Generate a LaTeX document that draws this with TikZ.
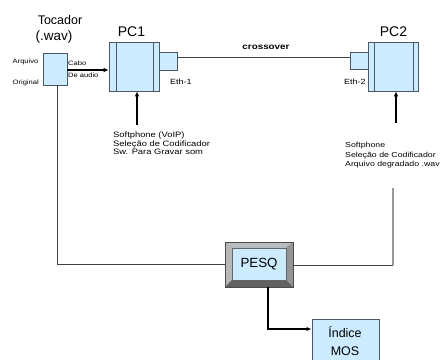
\documentclass[tikz,border=0pt]{standalone}
\usepackage{fontspec}
\setmainfont{Liberation Sans}
\newfontfamily\widefont[FakeStretch=1.2]{Liberation Sans}
\usetikzlibrary{arrows.meta}
\definecolor{boxfill}{HTML}{CCEBFF}
\definecolor{boxedge}{HTML}{4A5868}
\tikzset{
  x=1pt,y=-1pt,
  bx/.style={draw=boxedge,fill=boxfill,line width=0.7pt},
  big/.style={font=\fontsize{13.5}{15}\selectfont,inner sep=0pt},
  small/.style={font=\widefont\fontsize{6.3}{8}\selectfont,inner sep=0pt},
  ethlab/.style={font=\widefont\fontsize{7.5}{8}\selectfont,inner sep=0pt},
  info/.style={inner sep=0pt,align=left,anchor=north west},
  wire/.style={draw=black!75,line width=0.7pt},
  arr/.style={draw=black,line width=1.3pt,-{Latex[length=5pt,width=4.5pt]}},
}
\begin{document}
\begin{tikzpicture}
\useasboundingbox (0,0) rectangle (444,359);
\fill[white] (0,0) rectangle (444,359);
% Tocador
\node[big,font=\fontsize{12.5}{14}\selectfont] (toct) at (60,20) {Tocador};
\node[big] (tocw) at (54,37) {(.wav)};
\node[bx,minimum width=24pt,minimum height=32pt,inner sep=0pt] (toc) at (55,69) {};
\node[small,anchor=west] (arq) at (12.5,62) {Arquivo};
\node[small,anchor=west] (ori) at (12.5,83) {Original};
\node[small,anchor=west] (cabo) at (68,63) {Cabo};
\node[small,anchor=west] (deau) at (68,75) {De audio};
% PC1
\node[bx,minimum width=50pt,minimum height=49pt,inner sep=0pt] (pc1) at (134,66.5) {};
\draw[boxedge,line width=0.7pt] (116,42) -- (116,91) (153,42) -- (153,91);
\node[big,font=\fontsize{14}{15}\selectfont] (pc1t) at (131.5,32) {PC1};
\node[bx,minimum width=18pt,minimum height=18pt,inner sep=0pt] (eth1) at (168,61) {};
\node[ethlab,anchor=west] (eth1t) at (170,82) {Eth-1};
% PC2
\node[bx,minimum width=50pt,minimum height=49pt,inner sep=0pt] (pc2) at (393,66.5) {};
\draw[boxedge,line width=0.7pt] (374,42) -- (374,91) (413,42) -- (413,91);
\node[big,font=\fontsize{14}{15}\selectfont] (pc2t) at (393.5,32) {PC2};
\node[bx,minimum width=18pt,minimum height=17pt,inner sep=0pt] (eth2) at (359,60.5) {};
\node[ethlab,anchor=west] (eth2t) at (344,82) {Eth-2};
% crossover
\node[font=\widefont\bfseries\fontsize{8.2}{9}\selectfont,inner sep=0pt] (cross) at (266,47) {crossover};
\coordinate (c1) at (177,57);
\coordinate (c2) at (350,57);
\draw[wire] (c1) -- (c2);
% Audio arrow
\coordinate (a1) at (67,70);
\draw[arr] (a1) -- (pc1.west |- a1);
% PC1 info
\coordinate (p1b) at (137,125);
\draw[arr] (p1b) -- (p1b |- pc1.south);
\node[info,font=\widefont\fontsize{7.8}{8.2}\selectfont] (inf1) at (113,132) {Softphone (VoIP)\\Seleção de Codificador\\Sw. Para Gravar som};
% PC2 info
\coordinate (p2b) at (396,123);
\draw[arr] (p2b) -- (p2b |- pc2.south);
\node[info,font=\widefont\fontsize{7.3}{9.6}\selectfont] (inf2) at (345,142) {Softphone\\Seleção de Codificador\\Arquivo degradado .wav};
% PESQ
\fill[black!55] (225,242) -- (293,242) -- (293,287) -- (225,287) -- cycle;
\fill[boxedge!40] (225,242) -- (293,242) -- (286,248) -- (232,248) -- cycle;
\fill[black!28] (225,242) -- (232,248) -- (232,280) -- (225,287) -- cycle;
\fill[black!42] (293,242) -- (286,248) -- (286,280) -- (293,287) -- cycle;
\fill[black!62] (225,287) -- (232,280) -- (286,280) -- (293,287) -- cycle;
\draw[black!70,line width=0.6pt] (225,242) rectangle (293,287);
\node[draw=black!60,fill=boxfill,minimum width=54pt,minimum height=32pt,inner sep=0pt,font=\fontsize{13.3}{15}\selectfont] (pesq) at (259,264) {PESQ};
\node[minimum width=68pt,minimum height=45pt,inner sep=0pt] (pesqo) at (259,264.5) {};
% wires to PESQ
\coordinate (lc) at (57,264);
\draw[wire] (toc.south -| lc) -- (lc) -- (pesqo.west |- lc);
\coordinate (rt) at (393,188);
\coordinate (rc) at (393,265);
\draw[draw=black!40,line width=1.1pt] (rt) -- (rc);
\draw[wire] (pesqo.east |- rc) -- (rc);
% Indice MOS
\node[bx,minimum width=67pt,minimum height=50pt,inner sep=0pt,anchor=north west] (mos) at (311.5,319) {};
\node[font=\fontsize{12.5}{18.5}\selectfont,align=center,inner sep=0pt] (most) at (345,341) {Índice\\MOS};
\coordinate (mb) at (268,329);
\draw[arr] (pesqo.south -| mb) -- (mb) -- (mos.west |- mb);
\end{tikzpicture}
\end{document}
